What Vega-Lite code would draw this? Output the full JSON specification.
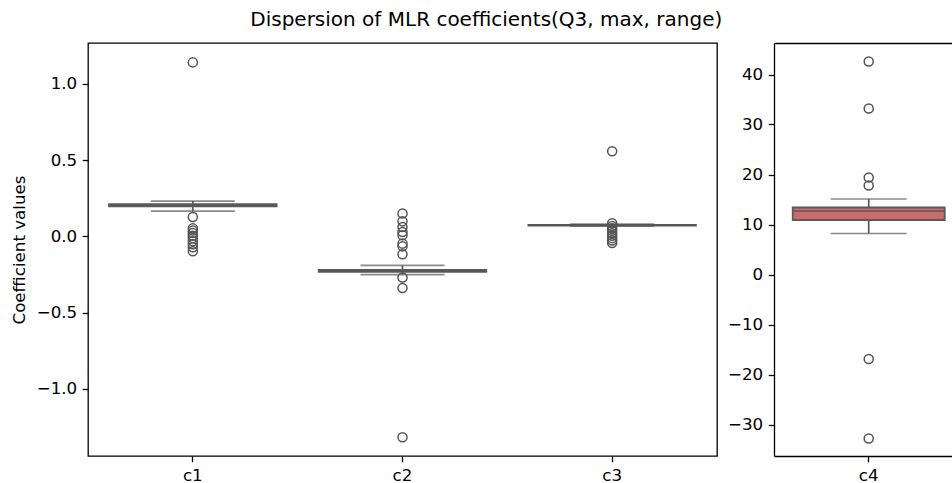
{
  "$schema": "https://vega.github.io/schema/vega-lite/v6.json",
  "padding": {"left": 10, "top": 10, "right": 0, "bottom": 4},
  "autosize": {"type": "pad"},
  "background": "white",
  "title": {
    "text": "Dispersion of MLR coefficients(Q3, max, range)",
    "font": "DejaVu Sans",
    "fontSize": 20,
    "fontWeight": "normal",
    "color": "black",
    "anchor": "middle",
    "dx": 5,
    "offset": 12
  },
  "datasets": {
    "boxes": [
      {"coef": "c1", "lower": 0.165, "q1": 0.196, "median": 0.205, "q3": 0.212, "upper": 0.231},
      {"coef": "c2", "lower": -0.251, "q1": -0.233, "median": -0.226, "q3": -0.220, "upper": -0.190},
      {"coef": "c3", "lower": 0.066, "q1": 0.070, "median": 0.073, "q3": 0.076, "upper": 0.080}
    ],
    "outliers": [
      {"coef": "c1", "value": 1.14},
      {"coef": "c1", "value": 0.127},
      {"coef": "c1", "value": 0.052},
      {"coef": "c1", "value": 0.038},
      {"coef": "c1", "value": 0.022},
      {"coef": "c1", "value": 0.004},
      {"coef": "c1", "value": -0.012},
      {"coef": "c1", "value": -0.032},
      {"coef": "c1", "value": -0.052},
      {"coef": "c1", "value": -0.072},
      {"coef": "c1", "value": -0.098},
      {"coef": "c2", "value": 0.149},
      {"coef": "c2", "value": 0.098},
      {"coef": "c2", "value": 0.061},
      {"coef": "c2", "value": 0.028},
      {"coef": "c2", "value": 0.007},
      {"coef": "c2", "value": -0.048},
      {"coef": "c2", "value": -0.066},
      {"coef": "c2", "value": -0.118},
      {"coef": "c2", "value": -0.27},
      {"coef": "c2", "value": -0.339},
      {"coef": "c2", "value": -1.317},
      {"coef": "c3", "value": 0.557},
      {"coef": "c3", "value": 0.086},
      {"coef": "c3", "value": 0.068},
      {"coef": "c3", "value": 0.052},
      {"coef": "c3", "value": 0.036},
      {"coef": "c3", "value": 0.02},
      {"coef": "c3", "value": 0.004},
      {"coef": "c3", "value": -0.012},
      {"coef": "c3", "value": -0.028},
      {"coef": "c3", "value": -0.044}
    ],
    "boxes4": [
      {"coef": "c4", "lower": 8.2, "q1": 10.9, "median": 12.7, "q3": 13.4, "upper": 15.1}
    ],
    "outliers4": [
      {"coef": "c4", "value": 42.6},
      {"coef": "c4", "value": 33.2},
      {"coef": "c4", "value": 19.4},
      {"coef": "c4", "value": 17.8},
      {"coef": "c4", "value": -16.9},
      {"coef": "c4", "value": -32.8}
    ]
  },
  "config": {
    "font": "DejaVu Sans",
    "axis": {
      "labelFont": "DejaVu Sans",
      "labelFontSize": 16.7,
      "labelColor": "black",
      "tickColor": "black",
      "tickSize": 5.8,
      "tickWidth": 1.3,
      "labelPadding": 5.5,
      "grid": false,
      "domainColor": "black",
      "domainWidth": 1.3,
      "titleFont": "DejaVu Sans",
      "titleFontSize": 16.7,
      "titleFontWeight": "normal",
      "titleColor": "black"
    },
    "view": {"stroke": "black", "strokeWidth": 1.3}
  },
  "spacing": 57,
  "bounds": "flush",
  "hconcat": [
    {
      "width": 629,
      "height": 413,
      "layer": [
        {
          "data": {"name": "boxes"},
          "mark": {"type": "rule", "color": "#585858", "strokeWidth": 1.7},
          "encoding": {
            "x": {
              "field": "coef",
              "type": "nominal",
              "sort": ["c1", "c2", "c3"],
              "scale": {"type": "band", "paddingInner": 0.2, "paddingOuter": 0.1},
              "axis": {"title": null, "labelAngle": 0, "domain": false}
            },
            "y": {
              "field": "lower",
              "type": "quantitative",
              "scale": {"domain": [-1.44, 1.267], "nice": false, "zero": false},
              "axis": {
                "title": "Coefficient values",
                "titlePadding": 8,
                "values": [-1, -0.5, 0, 0.5, 1],
                "format": ".1f",
                "domain": false
              }
            },
            "y2": {"field": "upper"}
          }
        },
        {
          "data": {"name": "boxes"},
          "mark": {"type": "tick", "color": "#585858", "thickness": 1.7, "size": 84},
          "encoding": {
            "x": {"field": "coef", "type": "nominal"},
            "y": {"field": "lower", "type": "quantitative"}
          }
        },
        {
          "data": {"name": "boxes"},
          "mark": {"type": "tick", "color": "#585858", "thickness": 1.7, "size": 84},
          "encoding": {
            "x": {"field": "coef", "type": "nominal"},
            "y": {"field": "upper", "type": "quantitative"}
          }
        },
        {
          "data": {"name": "boxes"},
          "mark": {"type": "bar", "fill": "#6c6c6c", "stroke": "#5a5a5a", "strokeWidth": 1.6},
          "encoding": {
            "x": {"field": "coef", "type": "nominal"},
            "y": {"field": "q1", "type": "quantitative"},
            "y2": {"field": "q3"}
          }
        },
        {
          "data": {"name": "boxes"},
          "mark": {"type": "tick", "color": "#555555", "thickness": 1.8, "size": 167},
          "encoding": {
            "x": {"field": "coef", "type": "nominal"},
            "y": {"field": "median", "type": "quantitative"}
          }
        },
        {
          "data": {"name": "outliers"},
          "mark": {"type": "point", "shape": "circle", "filled": false, "stroke": "#555555", "strokeWidth": 1.5, "size": 82, "opacity": 1},
          "encoding": {
            "x": {"field": "coef", "type": "nominal"},
            "y": {"field": "value", "type": "quantitative"}
          }
        }
      ]
    },
    {
      "width": 178,
      "height": 413,
      "view": {"stroke": null},
      "resolve": {"axis": {"x": "independent"}},
      "layer": [
        {
          "data": {"name": "boxes4"},
          "mark": {"type": "rule", "color": "#585858", "strokeWidth": 1.7},
          "encoding": {
            "x": {
              "field": "coef",
              "type": "nominal",
              "scale": {"type": "band", "paddingInner": 0, "paddingOuter": 0.0855, "align": 0.72},
              "axis": {"title": null, "labelAngle": 0, "orient": "bottom"}
            },
            "y": {
              "field": "lower",
              "type": "quantitative",
              "scale": {"domain": [-36.3, 46.3], "nice": false, "zero": false},
              "axis": {"title": null, "values": [-30, -20, -10, 0, 10, 20, 30, 40], "format": "d"}
            },
            "y2": {"field": "upper"}
          }
        },
        {
          "data": {"name": "boxes4"},
          "mark": {"type": "tick", "color": "#585858", "thickness": 1.7, "size": 76},
          "encoding": {
            "x": {"field": "coef", "type": "nominal", "axis": {"orient": "top", "labels": false, "ticks": false, "title": null}},
            "y": {"field": "lower", "type": "quantitative"}
          }
        },
        {
          "data": {"name": "boxes4"},
          "mark": {"type": "tick", "color": "#585858", "thickness": 1.7, "size": 76},
          "encoding": {
            "x": {"field": "coef", "type": "nominal", "axis": null},
            "y": {"field": "upper", "type": "quantitative"}
          }
        },
        {
          "data": {"name": "boxes4"},
          "mark": {"type": "bar", "fill": "#c86b6b", "stroke": "#5a5a5a", "strokeWidth": 1.8},
          "encoding": {
            "x": {"field": "coef", "type": "nominal", "axis": null},
            "y": {"field": "q1", "type": "quantitative"},
            "y2": {"field": "q3"}
          }
        },
        {
          "data": {"name": "boxes4"},
          "mark": {"type": "tick", "color": "#555555", "thickness": 1.8, "size": 152},
          "encoding": {
            "x": {"field": "coef", "type": "nominal", "axis": null},
            "y": {"field": "median", "type": "quantitative"}
          }
        },
        {
          "data": {"name": "outliers4"},
          "mark": {"type": "point", "shape": "circle", "filled": false, "stroke": "#555555", "strokeWidth": 1.5, "size": 82, "opacity": 1},
          "encoding": {
            "x": {"field": "coef", "type": "nominal", "axis": null},
            "y": {"field": "value", "type": "quantitative"}
          }
        }
      ]
    }
  ]
}
